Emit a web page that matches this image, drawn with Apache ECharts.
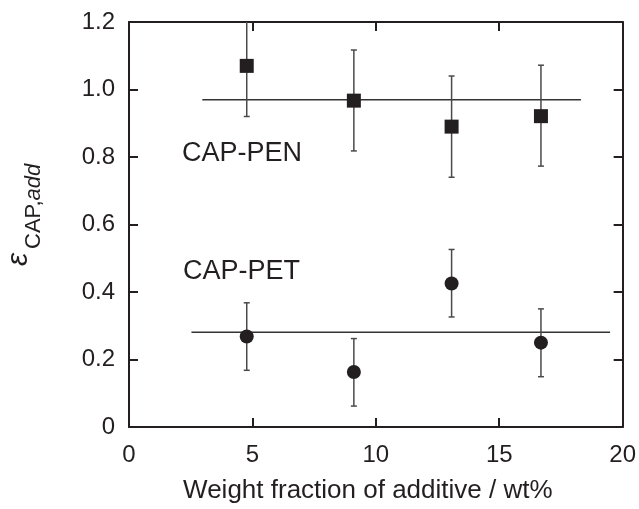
<!DOCTYPE html>
<html><head><meta charset="utf-8">
<script src="https://cdn.jsdelivr.net/npm/echarts@6/dist/echarts.min.js"></script>
<style>html,body{margin:0;padding:0;background:#fff}#c{width:639px;height:509px}</style>
</head><body><div id="c"></div>
<script>
// Data
const xValues = [4.77, 9.11, 13.07, 16.69];
const penValues = [1.07, 0.967, 0.89, 0.921];
const penLow = [0.92, 0.818, 0.74, 0.773];
const penHigh = [1.22, 1.117, 1.04, 1.072];
const petValues = [0.268, 0.163, 0.425, 0.25];
const petLow = [0.168, 0.062, 0.326, 0.149];
const petHigh = [0.368, 0.262, 0.526, 0.35];
const penFitX = [2.97, 18.31];
const penFitY = 0.97;
const petFitX = [2.53, 19.49];
const petFitY = 0.281;
const xTicks = [0, 5, 10, 15, 20];
const yTicks = [0, 0.2, 0.4, 0.6, 0.8, 1.0, 1.2];

const ink = '#231f20';
const font = 'Liberation Sans';

function errData(low, high) { return xValues.map((x, i) => [x, low[i], high[i]]); }
function errRender(params, api) {
  const x = api.value(0);
  const lo = api.coord([x, api.value(1)]);
  const hi = api.coord([x, api.value(2)]);
  const cw = 3;
  const st = { stroke: '#4a4a4a', lineWidth: 1.5 };
  return {
    type: 'group',
    children: [
      { type: 'line', shape: { x1: lo[0], y1: lo[1], x2: hi[0], y2: hi[1] }, style: st },
      { type: 'line', shape: { x1: lo[0] - cw, y1: lo[1], x2: lo[0] + cw, y2: lo[1] }, style: st },
      { type: 'line', shape: { x1: hi[0] - cw, y1: hi[1], x2: hi[0] + cw, y2: hi[1] }, style: st }
    ]
  };
}

const chart = echarts.init(document.getElementById('c'), null, { renderer: 'canvas' });
const axisLine = { show: true, onZero: false, lineStyle: { color: ink, width: 2 } };
const tick = { show: true, inside: true, length: 9, lineStyle: { color: ink, width: 2 } };
const option = {
  animation: false,
  backgroundColor: '#fff',
  grid: { left: 129, right: 16, top: 22, bottom: 78 },
  xAxis: [
    { type: 'value', min: xTicks[0], max: xTicks[xTicks.length - 1], interval: 5,
      axisLine: axisLine, axisTick: tick, splitLine: { show: false },
      axisLabel: { color: ink, fontFamily: font, fontSize: 24, margin: 16 },
      name: 'Weight fraction of additive / wt%', nameLocation: 'middle', nameGap: 51,
      nameTextStyle: { color: ink, fontFamily: font, fontSize: 26, padding: [0, 16, 0, 0] } },
    { type: 'value', position: 'top', min: 0, max: 20, interval: 5,
      axisLine: axisLine, axisTick: tick, splitLine: { show: false }, axisLabel: { show: false } }
  ],
  yAxis: [
    { type: 'value', min: yTicks[0], max: yTicks[yTicks.length - 1], interval: 0.2,
      axisLine: axisLine, axisTick: tick, splitLine: { show: false },
      axisLabel: { color: ink, fontFamily: font, fontSize: 24, margin: 14,
        formatter: v => (v === 0 ? '0' : v.toFixed(1)) } },
    { type: 'value', position: 'right', min: 0, max: 1.2, interval: 0.2,
      axisLine: axisLine, axisTick: tick, splitLine: { show: false }, axisLabel: { show: false } }
  ],
  graphic: [
    { type: 'text', left: 182, top: 140, style: { text: 'CAP-PEN', fill: ink, font: '27px "Liberation Sans"' } },
    { type: 'text', left: 183, top: 258, style: { text: 'CAP-PET', fill: ink, font: '27px "Liberation Sans"' } },
    { type: 'text', x: 19, y: 266, rotation: Math.PI / 2,
      style: { text: 'ε', fill: ink, font: 'italic 30px "Liberation Sans"', textAlign: 'left', textVerticalAlign: 'middle' } },
    { type: 'text', x: 34, y: 249, rotation: Math.PI / 2,
      style: { text: '{a|CAP,}{b|add}', fill: ink, textAlign: 'left', textVerticalAlign: 'middle',
        rich: { a: { font: '22px "Liberation Sans"', fill: ink }, b: { font: 'italic 22px "Liberation Sans"', fill: ink } } } }
  ],
  series: [
    { type: 'line', data: penFitX.map(x => [x, penFitY]), symbol: 'none', lineStyle: { color: '#333', width: 1.5 }, z: 1 },
    { type: 'line', data: petFitX.map(x => [x, petFitY]), symbol: 'none', lineStyle: { color: '#333', width: 1.5 }, z: 1 },
    { type: 'custom', data: errData(penLow, penHigh), renderItem: errRender, clip: true, z: 2 },
    { type: 'custom', data: errData(petLow, petHigh), renderItem: errRender, clip: true, z: 2 },
    { type: 'scatter', data: xValues.map((x, i) => [x, penValues[i]]), symbol: 'rect', symbolSize: 14,
      itemStyle: { color: ink, opacity: 1 }, z: 3 },
    { type: 'scatter', data: xValues.map((x, i) => [x, petValues[i]]), symbol: 'circle', symbolSize: 14,
      itemStyle: { color: ink, opacity: 1 }, z: 3 }
  ]
};
chart.setOption(option);
</script></body></html>
